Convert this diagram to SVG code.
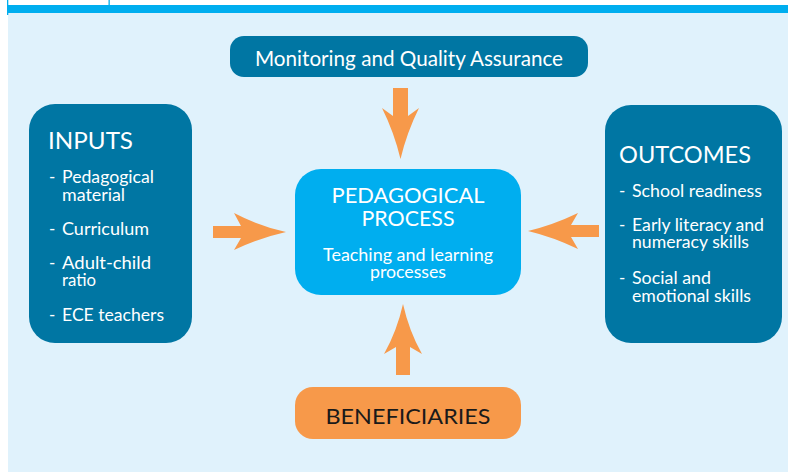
<svg xmlns="http://www.w3.org/2000/svg" width="788" height="472" viewBox="0 0 788 472">
<style>
.dark{fill:#0076A3}
.cyan{fill:#00AEEF}
.orange{fill:#F7994A}
.w{fill:#ffffff;font-family:Lato,"Open Sans","Liberation Sans",sans-serif}
.title{font-size:23px}
.item{font-size:17px}
.arrow{fill:#F7994A}
</style>
<rect x="0" y="0" width="788" height="472" fill="#ffffff"/>
<rect x="8" y="13" width="780" height="459" fill="#E0F2FC"/>
<rect x="8" y="5" width="780" height="8" fill="#00AEEF"/>
<rect x="7" y="0" width="1.3" height="15" fill="#00AEEF"/>
<rect x="108.5" y="0" width="1.3" height="6" fill="#00AEEF"/>

<g id="connectors">
<path class="arrow" d="M393,88 H408 V116 L419,108 Q407,132 400.5,159 Q394,132 382,108 L393,116 Z"/>
<path class="arrow" d="M396,375 H410 V347 L422,354 Q409,331 403,304 Q397,331 384,354 L396,347 Z"/>
<path class="arrow" d="M213,226 H241 L234,213 Q259,226 286,232 Q259,238 234,250 L241,238 H213 Z"/>
<path class="arrow" d="M599,225 H571 L578,213 Q553,225 528,231 Q553,237 578,249 L571,237 H599 Z"/>
</g>

<g id="monitoring">
<rect class="dark" x="230" y="36" width="358" height="41" rx="14"/>
<text class="w" x="409" y="66" font-size="21" text-anchor="middle" textLength="308" lengthAdjust="spacingAndGlyphs">Monitoring and Quality Assurance</text>
</g>

<g id="inputs">
<rect class="dark" x="29" y="104" width="163" height="239" rx="26"/>
<text class="w title" x="48" y="149" textLength="85" lengthAdjust="spacingAndGlyphs">INPUTS</text>
<g class="w item">
<text x="49" y="183">-</text><text x="62" y="183" textLength="92" lengthAdjust="spacingAndGlyphs">Pedagogical</text>
<text x="62" y="201" textLength="63" lengthAdjust="spacingAndGlyphs">material</text>
<text x="49" y="235">-</text><text x="62" y="235" textLength="87" lengthAdjust="spacingAndGlyphs">Curriculum</text>
<text x="49" y="269">-</text><text x="62" y="269" textLength="89" lengthAdjust="spacingAndGlyphs">Adult-child</text>
<text x="62" y="286" textLength="34" lengthAdjust="spacingAndGlyphs">ratio</text>
<text x="49" y="321">-</text><text x="62" y="321" textLength="102" lengthAdjust="spacingAndGlyphs">ECE teachers</text>
</g>
</g>

<g id="pedagogical">
<rect class="cyan" x="295" y="169" width="226" height="126" rx="26"/>
<text class="w" x="408" y="203" font-size="22" text-anchor="middle" textLength="153" lengthAdjust="spacingAndGlyphs">PEDAGOGICAL</text>
<text class="w" x="408" y="226" font-size="22" text-anchor="middle" textLength="93" lengthAdjust="spacingAndGlyphs">PROCESS</text>
<text class="w item" x="408" y="261" text-anchor="middle" textLength="170" lengthAdjust="spacingAndGlyphs">Teaching and learning</text>
<text class="w item" x="408" y="278" text-anchor="middle" textLength="76" lengthAdjust="spacingAndGlyphs">processes</text>
</g>

<g id="outcomes">
<rect class="dark" x="605" y="105" width="177" height="238" rx="26"/>
<text class="w title" x="619" y="163" textLength="132" lengthAdjust="spacingAndGlyphs">OUTCOMES</text>
<g class="w item">
<text x="619" y="197">-</text><text x="632" y="197" textLength="130" lengthAdjust="spacingAndGlyphs">School readiness</text>
<text x="619" y="231">-</text><text x="632" y="231" textLength="132" lengthAdjust="spacingAndGlyphs">Early literacy and</text>
<text x="632" y="248" textLength="117" lengthAdjust="spacingAndGlyphs">numeracy skills</text>
<text x="619" y="284">-</text><text x="632" y="284" textLength="79" lengthAdjust="spacingAndGlyphs">Social and</text>
<text x="632" y="302" textLength="119" lengthAdjust="spacingAndGlyphs">emotional skills</text>
</g>
</g>

<g id="beneficiaries">
<rect class="orange" x="295" y="387" width="226" height="52" rx="18"/>
<text x="408" y="424" font-size="22" fill="#1A1A1A" font-family="Lato,'Open Sans','Liberation Sans',sans-serif" text-anchor="middle" textLength="165" lengthAdjust="spacingAndGlyphs">BENEFICIARIES</text>
</g>
</svg>
